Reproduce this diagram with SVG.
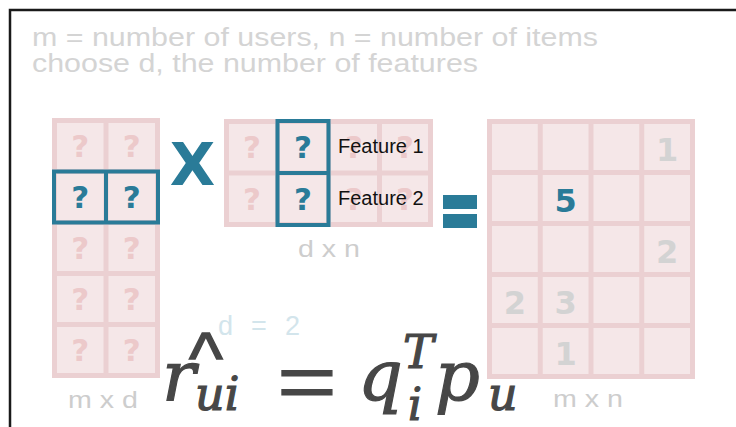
<svg xmlns="http://www.w3.org/2000/svg" width="736" height="427" viewBox="0 0 736 427">
<style>
.grid{fill:#ebd0d2}
.cell{fill:#f5e7e8}
.q{font-family:"DejaVu Sans",sans-serif;font-weight:bold;font-size:31px;text-anchor:middle;fill:#ecc9ca}
.num{font-family:"DejaVu Sans",sans-serif;font-weight:bold;font-size:32px;text-anchor:middle;fill:#d3d3d3}
.hl{fill:none;stroke:#2a7b98;stroke-width:4}
.lbl{font-family:"Liberation Sans",sans-serif;font-size:24px;fill:#cdcdcd}
.title{font-family:"Liberation Sans",sans-serif;font-size:25px;fill:#d4d4d4}
.feat{font-family:"Liberation Sans",sans-serif;font-size:20px;fill:#111}
.math{font-family:"DejaVu Serif",serif;font-style:italic;fill:#474747;stroke:#474747;stroke-width:1.2}
.blue{fill:#2a7b98}
</style>
<rect width="736" height="427" fill="#fff"/>
<path d="M10,427 V10 H736" fill="none" stroke="#1a1a1a" stroke-width="2.5"/>
<g id="title">
<text class="title" x="32" y="46" textLength="566" lengthAdjust="spacingAndGlyphs">m = number of users, n = number of items</text>
<text class="title" x="32" y="72" textLength="446" lengthAdjust="spacingAndGlyphs">choose d, the number of features</text>
</g>
<g id="connectors"/>
<g id="user-matrix">
<rect class="grid" x="52" y="118" width="108" height="260"/>
<rect class="cell" x="57" y="123" width="46.5" height="46"/><rect class="cell" x="108.5" y="123" width="46.5" height="46"/>
<rect class="cell" x="57" y="174" width="46.5" height="46"/><rect class="cell" x="108.5" y="174" width="46.5" height="46"/>
<rect class="cell" x="57" y="225" width="46.5" height="46"/><rect class="cell" x="108.5" y="225" width="46.5" height="46"/>
<rect class="cell" x="57" y="276" width="46.5" height="46"/><rect class="cell" x="108.5" y="276" width="46.5" height="46"/>
<rect class="cell" x="57" y="327" width="46.5" height="46"/><rect class="cell" x="108.5" y="327" width="46.5" height="46"/>
<text class="q" x="80.3" y="157">?</text><text class="q" x="131.8" y="157">?</text>
<text class="q blue" x="80.3" y="208">?</text><text class="q blue" x="131.8" y="208">?</text>
<text class="q" x="80.3" y="259">?</text><text class="q" x="131.8" y="259">?</text>
<text class="q" x="80.3" y="310">?</text><text class="q" x="131.8" y="310">?</text>
<text class="q" x="80.3" y="361">?</text><text class="q" x="131.8" y="361">?</text>
<rect class="hl" x="54" y="171.5" width="104" height="51"/>
<line class="hl" x1="106" y1="171.5" x2="106" y2="222.5"/>
<text class="lbl" x="68" y="408" textLength="70" lengthAdjust="spacingAndGlyphs">m x d</text>
</g>
<g id="times">
<text x="192.5" y="185" font-family="DejaVu Sans, sans-serif" font-weight="bold" font-size="59" text-anchor="middle" class="blue">X</text>
</g>
<g id="item-matrix">
<rect class="grid" x="224" y="119" width="209" height="108"/>
<rect class="cell" x="229" y="124" width="46" height="46.5"/><rect class="cell" x="280" y="124" width="46" height="46.5"/><rect class="cell" x="331" y="124" width="46" height="46.5"/><rect class="cell" x="382" y="124" width="46" height="46.5"/>
<rect class="cell" x="229" y="175.5" width="46" height="46.5"/><rect class="cell" x="280" y="175.5" width="46" height="46.5"/><rect class="cell" x="331" y="175.5" width="46" height="46.5"/><rect class="cell" x="382" y="175.5" width="46" height="46.5"/>
<text class="q" x="252" y="158">?</text><text class="q blue" x="303" y="158">?</text><text class="q" x="354" y="158">?</text><text class="q" x="405" y="158">?</text>
<text class="q" x="252" y="210">?</text><text class="q blue" x="303" y="210">?</text><text class="q" x="354" y="210">?</text><text class="q" x="405" y="210">?</text>
<rect class="hl" x="277.5" y="121" width="51" height="104"/>
<line class="hl" x1="277.5" y1="173" x2="328.5" y2="173"/>
<text class="feat" x="338" y="153">Feature 1</text>
<text class="feat" x="338" y="205">Feature 2</text>
<text class="lbl" x="298" y="257" textLength="62" lengthAdjust="spacingAndGlyphs">d x n</text>
</g>
<g id="equals">
<rect class="blue" x="443" y="195" width="34" height="14"/>
<rect class="blue" x="443" y="214" width="34" height="14"/>
</g>
<g id="rating-matrix">
<rect class="grid" x="487" y="119" width="208" height="260"/>
<g class="cell">
<rect x="492" y="124" width="45.75" height="46"/><rect x="542.75" y="124" width="45.75" height="46"/><rect x="593.5" y="124" width="45.75" height="46"/><rect x="644.25" y="124" width="45.75" height="46"/>
<rect x="492" y="175" width="45.75" height="46"/><rect x="542.75" y="175" width="45.75" height="46"/><rect x="593.5" y="175" width="45.75" height="46"/><rect x="644.25" y="175" width="45.75" height="46"/>
<rect x="492" y="226" width="45.75" height="46"/><rect x="542.75" y="226" width="45.75" height="46"/><rect x="593.5" y="226" width="45.75" height="46"/><rect x="644.25" y="226" width="45.75" height="46"/>
<rect x="492" y="277" width="45.75" height="46"/><rect x="542.75" y="277" width="45.75" height="46"/><rect x="593.5" y="277" width="45.75" height="46"/><rect x="644.25" y="277" width="45.75" height="46"/>
<rect x="492" y="328" width="45.75" height="46"/><rect x="542.75" y="328" width="45.75" height="46"/><rect x="593.5" y="328" width="45.75" height="46"/><rect x="644.25" y="328" width="45.75" height="46"/>
</g>
<text class="num" x="667.1" y="160.5">1</text>
<text class="num blue" x="565.6" y="211.5">5</text>
<text class="num" x="667.1" y="262.5">2</text>
<text class="num" x="514.9" y="313.5">2</text><text class="num" x="565.6" y="313.5">3</text>
<text class="num" x="565.6" y="364.5">1</text>
<text class="lbl" x="553" y="407" textLength="70" lengthAdjust="spacingAndGlyphs">m x n</text>
</g>
<g id="formula">
<text x="218" y="335" font-family="Liberation Sans, sans-serif" font-size="27" fill="#d3e5ec" textLength="82" lengthAdjust="spacing">d = 2</text>
<text x="206" y="383" font-family="Liberation Sans, sans-serif" font-size="72" text-anchor="middle" fill="#474747" stroke="#474747" stroke-width="1.5">^</text>
<text class="math" x="162" y="400" font-size="70">r</text>
<text class="math" x="195" y="410" font-size="46">ui</text>
<text x="0" y="0" font-family="Liberation Sans, sans-serif" font-size="76" fill="#474747" stroke="#474747" stroke-width="1" transform="translate(277,408) scale(1.35,1)">=</text>
<text class="math" x="358" y="400" font-size="70">q</text>
<text class="math" x="403" y="368" font-size="46">T</text>
<text class="math" x="408" y="420" font-size="44">i</text>
<text class="math" x="435" y="400" font-size="70">p</text>
<text class="math" x="488" y="410" font-size="46">u</text>
</g>
</svg>
